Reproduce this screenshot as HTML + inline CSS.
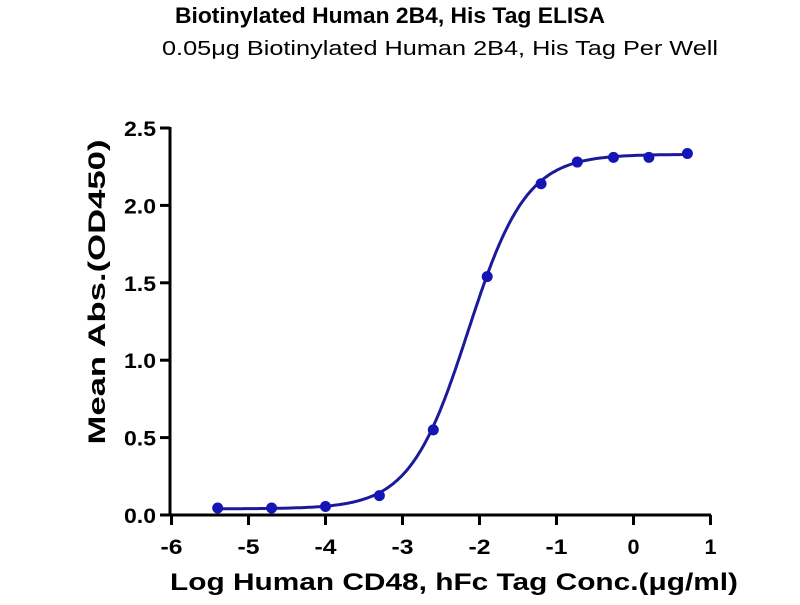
<!DOCTYPE html>
<html><head><style>body{margin:0;background:#fff}svg text{font-family:"Liberation Sans",sans-serif}</style></head><body>
<svg id="s" width="800" height="600" xmlns="http://www.w3.org/2000/svg">
<text x="390" y="23" text-anchor="middle" font-size="22" font-weight="bold" textLength="430" lengthAdjust="spacingAndGlyphs">Biotinylated Human 2B4, His Tag ELISA</text>
<text x="440" y="55" text-anchor="middle" font-size="20" textLength="556" lengthAdjust="spacingAndGlyphs">0.05μg Biotinylated Human 2B4, His Tag Per Well</text>
<g stroke="#000" stroke-width="3" fill="none">
<path d="M170,127 V515 H711"/>
</g>
<g id="ticks" stroke="#000" stroke-width="3"></g>
<g id="labels" font-size="21" font-weight="bold"></g>
<text x="454" y="590" text-anchor="middle" font-size="24" font-weight="bold" textLength="568" lengthAdjust="spacingAndGlyphs">Log Human CD48, hFc Tag Conc.(μg/ml)</text>
<text transform="translate(105,292) rotate(-90)" text-anchor="middle" font-size="24" font-weight="bold" textLength="305" lengthAdjust="spacingAndGlyphs">Mean Abs.(OD450)</text>
<path id="curve" fill="none" stroke="#1a1a9a" stroke-width="3"/>
<g id="pts" fill="#1515b5"></g>
</svg>
<script>
const X=v=>171.5+(v+6)*77,Y=v=>515-v*154.8;
let t='',l='';
for(let i=-6;i<=1;i++){t+=`<line x1="${X(i)}" y1="515" x2="${X(i)}" y2="525"/>`;l+=`<text x="${X(i)}" y="554" text-anchor="middle" textLength="${i<0?22:12}" lengthAdjust="spacingAndGlyphs">${i}</text>`;}
for(let j=0;j<=5;j++){const v=j*0.5;t+=`<line x1="160" y1="${Y(v)}" x2="170" y2="${Y(v)}"/>`;l+=`<text x="156" y="${Y(v)+8}" text-anchor="end" textLength="32" lengthAdjust="spacingAndGlyphs">${v.toFixed(1)}</text>`;}
document.getElementById('ticks').innerHTML=t;document.getElementById('labels').innerHTML=l;
const f=x=>0.04+2.29/(1+Math.pow(10,1.15*(-2.15-x)));
let d='';for(let x=-5.4;x<=0.701;x+=0.02)d+=(d?'L':'M')+X(x).toFixed(1)+','+Y(f(x)).toFixed(1);
document.getElementById('curve').setAttribute('d',d);
const xs=[-5.4,-4.7,-4.0,-3.3,-2.6,-1.9,-1.2,-0.73,-0.26,0.2,0.7],ys=[0.045,0.045,0.055,0.125,0.55,1.54,2.14,2.28,2.31,2.31,2.335];
let p='';xs.forEach((x,i)=>p+=`<circle cx="${X(x)}" cy="${Y(ys[i])}" r="5.5"/>`);
document.getElementById('pts').innerHTML=p;
</script>
</body></html>
